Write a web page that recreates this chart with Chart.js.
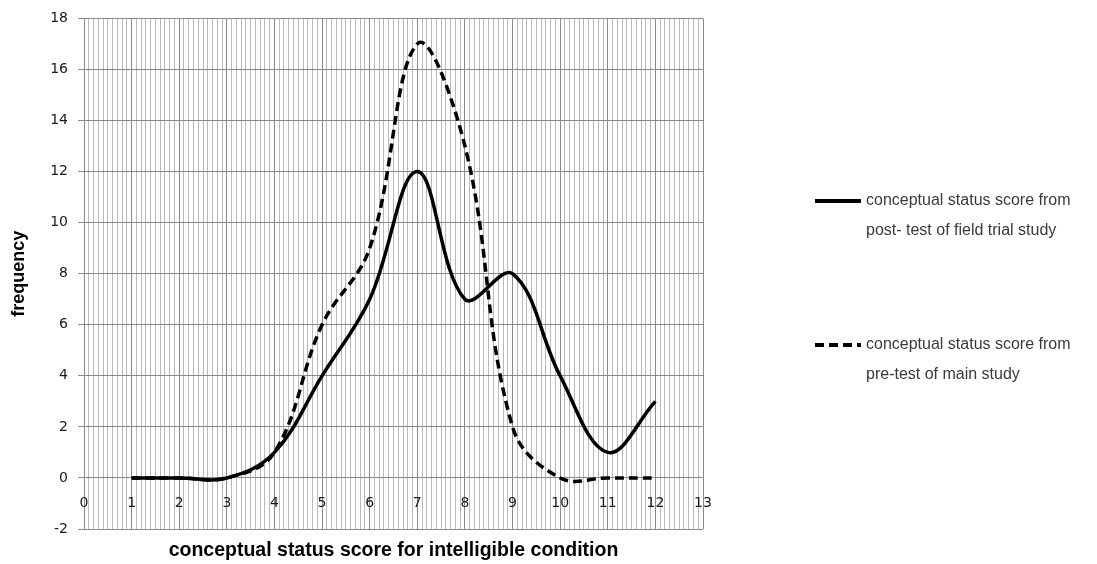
<!DOCTYPE html>
<html>
<head>
<meta charset="utf-8">
<title>conceptual status score</title>
<script src="https://cdn.jsdelivr.net/npm/chart.js@4.4.1/dist/chart.umd.min.js"></script>
<style>
  html, body { margin: 0; padding: 0; background: #fff; }
  #wrap { width: 1097px; height: 564px; }
</style>
</head>
<body>
<div id="wrap"><canvas id="chart" width="1097" height="564"></canvas></div>
<script>
  // scores 1..12 and how often each one came up
  const scores = [1, 2, 3, 4, 5, 6, 7, 8, 9, 10, 11, 12];
  const postTestField = [0, 0, 0, 1, 4, 7, 12, 7, 8, 4, 1, 3];
  const preTestMain = [0, 0, 0, 1, 6, 9, 17, 13, 2, 0, 0, 0];

  const xTicks = [0, 1, 2, 3, 4, 5, 6, 7, 8, 9, 10, 11, 12, 13];
  const yTicks = [-2, 0, 2, 4, 6, 8, 10, 12, 14, 16, 18];

  const legendLines = [
    ["conceptual status score from", "post- test of field trial study"],
    ["conceptual status score from", "pre-test of main study"],
  ];

  const MAJOR = "#8a8a8a";
  const MINOR = "#b9b9b9";
  const TICK_FONT = { family: "'DejaVu Sans', sans-serif", size: 14 };
  const TITLE_FAMILY = "'Liberation Sans', Arial, sans-serif";

  function points(values) {
    return scores.map((x, i) => ({ x, y: values[i] }));
  }

  function isWhole(v) {
    return Math.abs(v - Math.round(v)) < 1e-6;
  }

  // two-line legend on the right, drawn from each dataset's own style
  const sideLegend = {
    id: "sideLegend",
    afterDraw(chart) {
      const { ctx, chartArea } = chart;
      const x0 = chartArea.right + 112;
      const rows = [201, 345];
      ctx.save();
      chart.data.datasets.forEach((ds, i) => {
        const y = rows[i];
        ctx.beginPath();
        ctx.setLineDash(ds.borderDash || []);
        ctx.lineWidth = 4;
        ctx.strokeStyle = ds.borderColor;
        ctx.moveTo(x0, y);
        ctx.lineTo(x0 + 46, y);
        ctx.stroke();
        ctx.setLineDash([]);
        ctx.fillStyle = "#3a3a3a";
        ctx.font = "16px 'Liberation Sans', Arial, sans-serif";
        ctx.textBaseline = "middle";
        legendLines[i].forEach((line, j) => {
          ctx.fillText(line, x0 + 51, y + j * 30);
        });
      });
      ctx.restore();
    },
  };

  new Chart(document.getElementById("chart"), {
    type: "line",
    data: {
      datasets: [
        {
          label: legendLines[0].join(" "),
          data: points(postTestField),
          borderColor: "#000",
          borderWidth: 3.5,
          pointRadius: 0,
          tension: 0.38,
          fill: false,
        },
        {
          label: legendLines[1].join(" "),
          data: points(preTestMain),
          borderColor: "#000",
          borderWidth: 3.5,
          borderDash: [9, 5],
          pointRadius: 0,
          tension: 0.38,
          fill: false,
        },
      ],
    },
    options: {
      responsive: false,
      animation: false,
      devicePixelRatio: 1,
      layout: { padding: { top: 15, right: 394, left: 0, bottom: 0 } },
      plugins: { legend: { display: false }, tooltip: { enabled: false } },
      scales: {
        x: {
          type: "linear",
          min: xTicks[0],
          max: xTicks[xTicks.length - 1],
          ticks: { display: false, stepSize: 0.1 },
          grid: {
            drawTicks: false,
            lineWidth: 1,
            color: (c) => (isWhole(c.tick.value) ? MAJOR : MINOR),
          },
          border: { display: false },
          title: {
            display: true,
            text: "conceptual status score for intelligible condition",
            font: { family: TITLE_FAMILY, size: 19.5, weight: "bold" },
            color: "#000",
            padding: { top: 0, bottom: 2 },
          },
          afterFit(scale) { scale.height = 35; },
        },
        xLabels: {
          type: "linear",
          axis: "x",
          position: { y: 0 },
          min: xTicks[0],
          max: xTicks[xTicks.length - 1],
          afterBuildTicks(scale) { scale.ticks = xTicks.map((value) => ({ value })); },
          ticks: { font: TICK_FONT, color: "#1a1a1a", padding: 17, autoSkip: false, maxRotation: 0 },
          grid: { display: false, drawTicks: false },
          border: { display: false },
        },
        y: {
          min: yTicks[0],
          max: yTicks[yTicks.length - 1],
          afterBuildTicks(scale) { scale.ticks = yTicks.map((value) => ({ value })); },
          ticks: { font: TICK_FONT, color: "#1a1a1a", padding: 10 },
          grid: { color: MAJOR, lineWidth: 1, tickLength: 6 },
          border: { display: false },
          title: {
            display: true,
            text: "frequency",
            font: { family: TITLE_FAMILY, size: 18, weight: "bold" },
            color: "#000",
            padding: { top: 8, bottom: 0 },
          },
          afterFit(scale) { scale.width = 84; },
        },
      },
    },
    plugins: [sideLegend],
  });
</script>
</body>
</html>
